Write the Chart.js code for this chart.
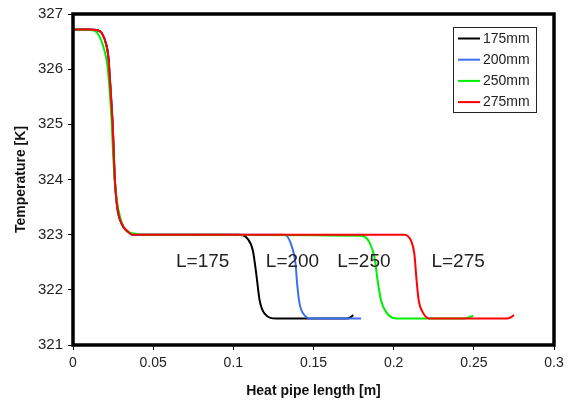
<!DOCTYPE html>
<html>
<head>
<meta charset="utf-8">
<script src="https://cdn.jsdelivr.net/npm/chart.js@4.4.1/dist/chart.umd.min.js"></script>
<style>
  html, body { margin: 0; padding: 0; background: #fff; }
  #wrap { width: 571px; height: 403px; }
</style>
</head>
<body>
<div id="wrap"><canvas id="chart" width="571" height="403"></canvas></div>
<script>
// ===============================
// DATA
// ===============================
const seriesNames = ["175mm", "200mm", "250mm", "275mm"];
const seriesColors = ["#000000", "#3f6ef0", "#00ee00", "#ff0000"];

// common evaporator drop (black, blue, red)
const dropX = [0, 0.010, 0.0147, 0.0178, 0.021, 0.0222, 0.0226, 0.0247, 0.0261, 0.0276, 0.0303, 0.0344, 0.037];
const dropY = [326.72, 326.72, 326.71, 326.66, 326.42, 326.18, 326.0, 325.0, 324.0, 323.5, 323.2, 323.05, 323.0];

const greenDropX = [0, 0.012, 0.016, 0.019, 0.0215, 0.0238, 0.0255, 0.027, 0.0295, 0.033, 0.038, 0.0427];
const greenDropY = [326.72, 326.71, 326.62, 326.4, 326.05, 325.2, 324.2, 323.7, 323.3, 323.08, 323.02, 323.0];

const x175 = [0.1029, 0.1091, 0.1122, 0.1143, 0.1164, 0.1195, 0.1268, 0.1714, 0.1749];
const y175 = [323.0, 322.92, 322.71, 322.29, 321.81, 321.57, 321.48, 321.48, 321.54];

const x200 = [0.132, 0.1361, 0.1388, 0.1398, 0.1413, 0.1444, 0.1486, 0.1797];
const y200 = [323.0, 322.82, 322.47, 322.11, 321.75, 321.54, 321.48, 321.48];

const x250 = [0.1797, 0.1849, 0.188, 0.190, 0.1921, 0.1952, 0.2015, 0.244, 0.2496];
const y250 = [322.98, 322.86, 322.59, 322.17, 321.81, 321.6, 321.48, 321.48, 321.53];

const x275 = [0.2066, 0.2108, 0.2129, 0.2143, 0.2156, 0.218, 0.2222, 0.271, 0.2751];
const y275 = [323.0, 322.89, 322.65, 322.17, 321.81, 321.6, 321.48, 321.48, 321.54];

const yTicks = [321, 322, 323, 324, 325, 326, 327];
const xTickLabels = ["0", "0.05", "0.1", "0.15", "0.2", "0.25", "0.3"];

const labelTexts = ["L=175", "L=200", "L=250", "L=275"];
const labelX = [0.0809, 0.1369, 0.1814, 0.2402];
const labelY = [322.51, 322.51, 322.51, 322.51];

function toPoints(xs, ys) {
    return xs.map((x, i) => ({ x: x, y: ys[i] }));
}

const seriesPoints = [
    toPoints(dropX.concat(x175), dropY.concat(y175)),
    toPoints(dropX.concat(x200), dropY.concat(y200)),
    toPoints(greenDropX.concat(x250), greenDropY.concat(y250)),
    toPoints(dropX.concat(x275), dropY.concat(y275))
];

// ===============================
// FRAME, LABELS AND LEGEND
// ===============================
const decorPlugin = {
    id: "decor",
    afterDatasetsDraw(chart) {
        const ctx = chart.ctx;
        const a = chart.chartArea;
        const xs = chart.scales.x;
        const ys = chart.scales.y;

        ctx.save();
        // plot frame
        ctx.strokeStyle = "#000";
        ctx.lineWidth = 3.5;
        ctx.strokeRect(a.left, a.top, a.right - a.left, a.bottom - a.top);

        // curve labels
        ctx.fillStyle = "#222";
        ctx.font = "19px 'Liberation Sans', Arial, sans-serif";
        ctx.textAlign = "center";
        ctx.textBaseline = "middle";
        labelTexts.forEach((t, i) => {
            ctx.fillText(t, xs.getPixelForValue(labelX[i]), ys.getPixelForValue(labelY[i]));
        });

        // legend box
        const bx = 453, by = 27, bw = 83, bh = 85;
        ctx.fillStyle = "#fff";
        ctx.fillRect(bx, by, bw, bh);
        ctx.strokeStyle = "#222";
        ctx.lineWidth = 1;
        ctx.strokeRect(bx + 0.5, by + 0.5, bw, bh);
        ctx.font = "14px 'Liberation Sans', Arial, sans-serif";
        ctx.textAlign = "left";
        chart.data.datasets.forEach((ds, i) => {
            const yy = by + 11.5 + i * 21.2;
            ctx.strokeStyle = ds.borderColor;
            ctx.lineWidth = 2;
            ctx.beginPath();
            ctx.moveTo(bx + 5, yy);
            ctx.lineTo(bx + 27, yy);
            ctx.stroke();
            ctx.fillStyle = "#222";
            ctx.fillText(ds.label, bx + 30, yy + 0.5);
        });
        ctx.restore();
    }
};

// ===============================
// CHART
// ===============================
const ctx1 = document.getElementById("chart").getContext("2d");

new Chart(ctx1, {
    type: "scatter",
    data: {
        datasets: seriesNames.map((name, i) => ({
            label: name,
            data: seriesPoints[i],
            showLine: true,
            borderColor: seriesColors[i],
            backgroundColor: seriesColors[i],
            borderWidth: 2,
            pointRadius: 0,
            // red drawn last (on top), black first
            order: seriesNames.length - i,
            cubicInterpolationMode: "monotone"
        }))
    },
    options: {
        responsive: false,
        animation: false,
        layout: { padding: { top: 11, right: 17, left: 0, bottom: 0 } },
        plugins: {
            legend: { display: false },
            tooltip: { enabled: false }
        },
        scales: {
            x: {
                type: "linear",
                min: 0,
                max: 0.3,
                afterFit(scale) { scale.height = 58; },
                afterBuildTicks(scale) {
                    scale.ticks = xTickLabels.map(v => ({ value: parseFloat(v) }));
                },
                ticks: {
                    color: "#222",
                    font: { size: 14, family: "'Liberation Sans', Arial, sans-serif" },
                    padding: 5,
                    maxRotation: 0,
                    callback: (v, i) => xTickLabels[i]
                },
                grid: {
                    drawOnChartArea: false,
                    drawTicks: true,
                    tickLength: 5,
                    color: "#000"
                },
                border: { display: false },
                title: {
                    display: true,
                    text: "Heat pipe length [m]",
                    color: "#111",
                    font: { size: 14, weight: "bold", family: "'Liberation Sans', Arial, sans-serif" },
                    padding: { top: 0, bottom: 3 }
                }
            },
            y: {
                type: "linear",
                min: 321,
                max: 327,
                afterFit(scale) { scale.width = 73; },
                afterBuildTicks(scale) {
                    scale.ticks = yTicks.map(v => ({ value: v }));
                },
                ticks: {
                    color: "#222",
                    font: { size: 15, family: "'Liberation Sans', Arial, sans-serif" },
                    padding: 5
                },
                grid: {
                    drawOnChartArea: false,
                    drawTicks: true,
                    tickLength: 5,
                    color: "#000"
                },
                border: { display: false },
                title: {
                    display: true,
                    text: "Temperature [K]",
                    color: "#111",
                    font: { size: 14, weight: "bold", family: "'Liberation Sans', Arial, sans-serif" },
                    padding: { top: 13, bottom: 0 }
                }
            }
        }
    },
    plugins: [decorPlugin]
});
</script>
</body>
</html>
